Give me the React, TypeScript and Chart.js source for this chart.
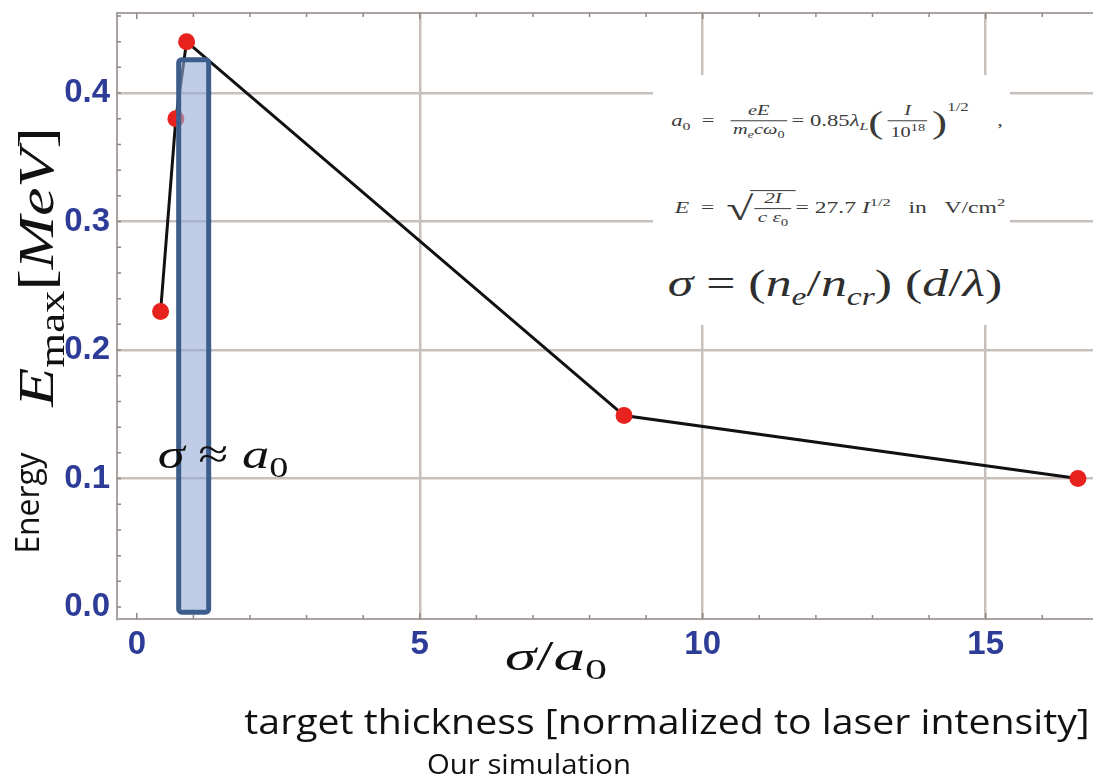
import React, { useEffect, useLayoutEffect, useRef, useState } from "react";
import { Chart, registerables } from "chart.js";

Chart.register(...registerables);

// ---- data ----
const sigmaOverA0 = [0.42, 0.69, 0.88, 8.61, 16.63];
const energyMeV = [0.23, 0.38, 0.44, 0.149, 0.1];

const xMajorTicks = [0, 5, 10, 15];
const yMajorTicks = [0, 0.1, 0.2, 0.3, 0.4];
const xMinorTicks = [0, 1, 2, 3, 4, 5, 6, 7, 8, 9, 10, 11, 12, 13, 14, 15, 16, 17];
const yMinorTicks = [0, 0.02, 0.04, 0.06, 0.08, 0.1, 0.12, 0.14, 0.16, 0.18, 0.2, 0.22, 0.24, 0.26, 0.28, 0.3, 0.32, 0.34, 0.36, 0.38, 0.4, 0.42, 0.44, 0.46];

const xRange = [-0.35, 17.4];
const yRange = [-0.0093, 0.4623];

// highlighted band "sigma ~ a0"
const bandX = [0.74, 1.27];
const bandY = [-0.004, 0.426];

const FRAME = "#aaa39f";
const GRID = "#c6bfbb";
const TICK_BLUE = "#2d3c97";

const decorPlugin = {
  id: "decor",
  beforeDatasetsDraw(chart: any) {
    const { ctx, chartArea } = chart;
    const xs = chart.scales.x;
    const ys = chart.scales.y;
    ctx.save();
    ctx.strokeStyle = FRAME;
    ctx.lineWidth = 2;
    ctx.beginPath();
    ctx.moveTo(chartArea.left, chartArea.top);
    ctx.lineTo(chartArea.right, chartArea.top);
    ctx.stroke();
    ctx.strokeStyle = "#8f8884";
    ctx.lineWidth = 1.5;
    ctx.beginPath();
    for (const v of xMinorTicks) {
      const px = xs.getPixelForValue(v);
      const len = v % 5 === 0 ? 6 : 4;
      ctx.moveTo(px, chartArea.bottom);
      ctx.lineTo(px, chartArea.bottom - len);
      ctx.moveTo(px, chartArea.top);
      ctx.lineTo(px, chartArea.top + len);
    }
    for (const v of yMinorTicks) {
      const py = ys.getPixelForValue(v);
      ctx.moveTo(chartArea.left, py);
      ctx.lineTo(chartArea.left + 4, py);
    }
    ctx.stroke();
    ctx.restore();
  },
  afterDatasetsDraw(chart: any) {
    const { ctx } = chart;
    const xs = chart.scales.x;
    const ys = chart.scales.y;
    const l = xs.getPixelForValue(bandX[0]);
    const r = xs.getPixelForValue(bandX[1]);
    const t = ys.getPixelForValue(bandY[1]);
    const b = ys.getPixelForValue(bandY[0]);
    ctx.save();
    ctx.beginPath();
    if (ctx.roundRect) ctx.roundRect(l, t, r - l, b - t, 3);
    else ctx.rect(l, t, r - l, b - t);
    ctx.fillStyle = "rgba(150,172,213,0.6)";
    ctx.fill();
    ctx.lineWidth = 5;
    ctx.strokeStyle = "#3d5e8c";
    ctx.stroke();
    ctx.restore();
  },
};

function Label(props: {
  cx: number;
  cy: number;
  len: number;
  rotate?: number;
  style?: React.CSSProperties;
  children: React.ReactNode;
}) {
  const { cx, cy, len, rotate = 0, style, children } = props;
  const ref = useRef<HTMLDivElement>(null);
  const [sx, setSx] = useState(1);
  useLayoutEffect(() => {
    if (ref.current) {
      const w = ref.current.offsetWidth;
      if (w > 0) setSx(len / w);
    }
  }, [len]);
  return (
    <div
      ref={ref}
      style={{
        position: "absolute",
        left: cx,
        top: cy,
        width: "max-content",
        whiteSpace: "nowrap",
        lineHeight: 1,
        transformOrigin: "50% 50%",
        transform: `translate(-50%,-50%) rotate(${rotate}deg) scaleX(${sx})`,
        ...style,
      }}
    >
      {children}
    </div>
  );
}

function Frac({ n, d }: { n: React.ReactNode; d: React.ReactNode }) {
  return (
    <span
      style={{
        display: "inline-flex",
        flexDirection: "column",
        alignItems: "center",
        verticalAlign: "middle",
        margin: "0 3px",
        lineHeight: 1.1,
      }}
    >
      <span style={{ fontSize: "0.9em", padding: "0 2px 1px" }}>{n}</span>
      <span
        style={{
          fontSize: "0.9em",
          padding: "1px 2px 0",
          borderTop: "1px solid currentColor",
          alignSelf: "stretch",
          textAlign: "center",
        }}
      >
        {d}
      </span>
    </span>
  );
}

const serif = "'Liberation Serif', 'DejaVu Serif', serif";
const sans = "'Open Sans', 'Noto Sans', sans-serif";

export default function App() {
  const canvasRef = useRef<HTMLCanvasElement>(null);

  useEffect(() => {
    document.body.style.margin = "0";
    const canvas = canvasRef.current;
    if (!canvas) return;
    const chart = new Chart(canvas, {
      type: "line",
      data: {
        datasets: [
          {
            data: sigmaOverA0.map((x, i) => ({ x, y: energyMeV[i] })),
            borderColor: "#111111",
            borderWidth: 3,
            pointRadius: 8.5,
            pointBackgroundColor: "#e8231f",
            pointBorderWidth: 0,
            pointBorderColor: "#e8231f",
            tension: 0,
            fill: false,
          },
        ],
      },
      options: {
        animation: false,
        responsive: false,
        maintainAspectRatio: false,
        layout: { padding: { top: 13, right: 5, left: 0, bottom: 0 } },
        plugins: { legend: { display: false }, tooltip: { enabled: false }, title: { display: false } },
        scales: {
          x: {
            type: "linear",
            min: xRange[0],
            max: xRange[1],
            afterFit(s: any) {
              s.height = 164;
              s.paddingLeft = 0;
              s.paddingRight = 0;
            },
            afterBuildTicks(s: any) {
              s.ticks = xMajorTicks.map((v) => ({ value: v }));
            },
            ticks: {
              padding: 6,
              autoSkip: false,
              maxRotation: 0,
              color: TICK_BLUE,
              font: { family: "'Liberation Sans', Arial, sans-serif", weight: "bold", size: 33 },
              callback: (v: any) => String(v),
            },
            grid: {
              drawTicks: false,
              lineWidth: 2.5,
              color: (c: any) => (c.tick && c.tick.value === 0 ? "rgba(0,0,0,0)" : GRID),
            },
            border: { color: FRAME, width: 2 },
          },
          y: {
            type: "linear",
            min: yRange[0],
            max: yRange[1],
            afterFit(s: any) {
              s.width = 117;
              s.paddingTop = 0;
              s.paddingBottom = 0;
            },
            afterBuildTicks(s: any) {
              s.ticks = yMajorTicks.map((v) => ({ value: v }));
            },
            ticks: {
              padding: 7,
              color: TICK_BLUE,
              font: { family: "'Liberation Sans', Arial, sans-serif", weight: "bold", size: 33 },
              callback: (v: any) => Number(v).toFixed(1),
            },
            grid: {
              drawTicks: false,
              lineWidth: 2.5,
              color: (c: any) => (c.tick && c.tick.value === 0 ? "rgba(0,0,0,0)" : GRID),
            },
            border: { color: FRAME, width: 2 },
          },
        },
      },
      plugins: [decorPlugin],
    } as any);
    return () => chart.destroy();
  }, []);

  const eq = { fontFamily: serif, color: "#3a3a3a" };

  return (
    <div
      style={{
        position: "absolute",
        left: 0,
        top: 0,
        width: 1093,
        height: 783,
        overflow: "hidden",
        background: "#ffffff",
      }}
    >
      <canvas
        ref={canvasRef}
        width={1130}
        height={783}
        style={{ position: "absolute", left: 0, top: 0, width: 1130, height: 783, display: "block" }}
      />

      {/* formula panel */}
      <div style={{ position: "absolute", left: 653, top: 75, width: 357, height: 250, background: "#ffffff" }} />
      <Label cx={837} cy={122} len={331} style={{ ...eq, fontSize: 16 }}>
        <i>a</i>
        <sub style={{ fontSize: "0.7em" }}>0</sub>
        <span>&nbsp;&nbsp;=&nbsp;&nbsp;</span>
        <Frac n={<i>eE</i>} d={<><i>m<sub style={{ fontSize: "0.7em" }}>e</sub>cω</i><sub style={{ fontSize: "0.7em" }}>0</sub></>} />
        <span>= 0.85</span>
        <i>λ</i>
        <sub style={{ fontSize: "0.7em" }}><i>L</i></sub>
        <span style={{ fontSize: "2em", verticalAlign: "middle", fontWeight: 300 }}>(</span>
        <Frac n={<i>I</i>} d={<>10<sup style={{ fontSize: "0.7em" }}>18</sup></>} />
        <span style={{ fontSize: "2em", verticalAlign: "middle", fontWeight: 300 }}>)</span>
        <sup style={{ fontSize: "0.75em", position: "relative", top: -8 }}>1/2</sup>
        <span>&nbsp;&nbsp;&nbsp;&nbsp;&nbsp;,</span>
      </Label>
      <Label cx={840} cy={209} len={330} style={{ ...eq, fontSize: 16 }}>
        <i>E</i>
        <span>&nbsp;&nbsp;=&nbsp;&nbsp;</span>
        <span style={{ fontSize: "2.1em", verticalAlign: "middle" }}>√</span>
        <span style={{ borderTop: "1px solid #3a3a3a", display: "inline-block", verticalAlign: "middle", marginLeft: -2 }}>
          <Frac n={<i>2I</i>} d={<><i>c</i> <i>ε</i><sub style={{ fontSize: "0.7em" }}>0</sub></>} />
        </span>
        <span>= 27.7 </span>
        <i>I</i>
        <sup style={{ fontSize: "0.7em" }}>1/2</sup>
        <span>&nbsp;&nbsp;&nbsp;in&nbsp;&nbsp;&nbsp;V/cm</span>
        <sup style={{ fontSize: "0.7em" }}>2</sup>
      </Label>
      <Label cx={835} cy={287} len={334} style={{ ...eq, fontSize: 38, color: "#2e2e2e" }}>
        <i>σ</i> = (<i>n</i>
        <sub style={{ fontSize: "0.65em" }}><i>e</i></sub>/<i>n</i>
        <sub style={{ fontSize: "0.65em" }}><i>cr</i></sub>) (<i>d</i>/<i>λ</i>)
      </Label>

      {/* y-axis titles */}
      <Label cx={40} cy={267} len={280} rotate={-90} style={{ fontFamily: serif, fontSize: 50, color: "#111" }}>
        <i>E</i>
        <sub style={{ fontSize: "0.7em" }}>max</sub>[<i>MeV</i>]
      </Label>
      <Label cx={26} cy={503} len={101} rotate={-90} style={{ fontFamily: sans, fontSize: 33, color: "#111" }}>
        Energy
      </Label>

      {/* annotations */}
      <Label cx={223} cy={458} len={130} style={{ fontFamily: serif, fontSize: 42, color: "#111" }}>
        <i>σ</i> ≈ <i>a</i>
        <sub style={{ fontSize: "0.7em" }}>0</sub>
      </Label>
      <Label cx={556} cy={660} len={102} style={{ fontFamily: serif, fontSize: 42, color: "#111" }}>
        <i>σ</i>/<i>a</i>
        <sub style={{ fontSize: "0.7em" }}>0</sub>
      </Label>
      <Label cx={667} cy={721} len={845} style={{ fontFamily: sans, fontSize: 34, color: "#111" }}>
        target thickness [normalized to laser intensity]
      </Label>
      <Label cx={529} cy={763} len={204} style={{ fontFamily: sans, fontSize: 27, color: "#111" }}>
        Our simulation
      </Label>
    </div>
  );
}
